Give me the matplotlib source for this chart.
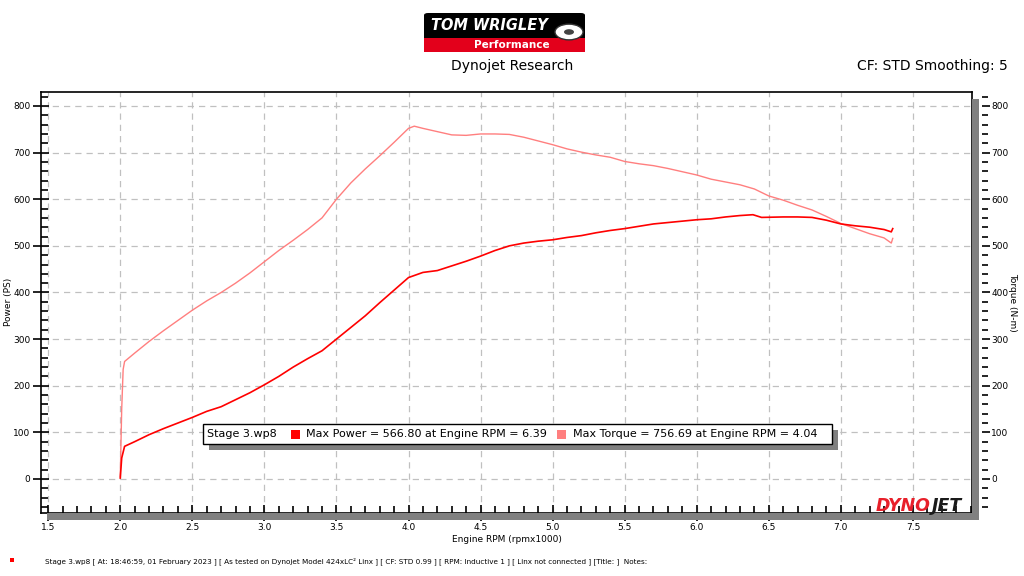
#!/usr/bin/env python3
# _*_ coding=utf-8 _*_

import matplotlib
matplotlib.use("Agg")
import matplotlib.pyplot as plt
from matplotlib.patches import Rectangle, FancyBboxPatch, Circle
from matplotlib.ticker import MultipleLocator

# engine rpm (x1000) and power (PS)
power_rpm = [2.00, 2.01, 2.03, 2.1, 2.2, 2.3, 2.4, 2.5, 2.6, 2.7, 2.8, 2.9,
             3.0, 3.1, 3.2, 3.3, 3.4, 3.5, 3.6, 3.7, 3.8, 3.9, 4.0, 4.1,
             4.2, 4.3, 4.4, 4.5, 4.6, 4.7, 4.8, 4.9, 5.0, 5.1, 5.2, 5.3,
             5.4, 5.5, 5.6, 5.7, 5.8, 5.9, 6.0, 6.1, 6.2, 6.3, 6.39, 6.45,
             6.6, 6.7, 6.8, 6.9, 7.0, 7.1, 7.2, 7.3, 7.35, 7.36]
power_ps = [2, 45, 70, 80, 95, 108, 120, 132, 145, 155, 170, 185,
            202, 220, 240, 258, 275, 300, 325, 350, 378, 405, 432, 443,
            447, 457, 467, 478, 490, 500, 506, 510, 513, 518, 522, 528,
            533, 537, 542, 547, 550, 553, 556, 558, 562, 565, 566.8, 561,
            562, 562, 561, 555, 547, 543, 540, 535, 530, 537]

# engine rpm (x1000) and torque (N-m)
torque_rpm = [2.00, 2.01, 2.02, 2.03, 2.1, 2.2, 2.3, 2.4, 2.5, 2.6, 2.7, 2.8,
              2.9, 3.0, 3.1, 3.2, 3.3, 3.4, 3.5, 3.6, 3.7, 3.8, 3.9, 4.0,
              4.04, 4.1, 4.2, 4.3, 4.4, 4.5, 4.6, 4.7, 4.8, 4.9, 5.0, 5.1,
              5.2, 5.3, 5.4, 5.5, 5.6, 5.7, 5.8, 5.9, 6.0, 6.1, 6.2, 6.3,
              6.4, 6.5, 6.6, 6.7, 6.8, 6.9, 7.0, 7.1, 7.2, 7.3, 7.35, 7.36]
torque_nm = [5, 150, 235, 252, 270, 295, 318, 340, 362, 382, 400, 420,
             442, 466, 490, 512, 535, 560, 600, 635, 665, 693, 722, 752,
             756.7, 752, 745, 738, 737, 740, 740, 739, 733, 725, 717, 708,
             701, 695, 690, 681, 676, 672, 666, 659, 652, 643, 637, 631,
             622, 607, 598, 587, 577, 563, 548, 537, 526, 517, 506, 516]

legend_items = ["Stage 3.wp8",
                "Max Power = 566.80 at Engine RPM = 6.39",
                "Max Torque = 756.69 at Engine RPM = 4.04"]
footer = ("Stage 3.wp8 [ At: 18:46:59, 01 February 2023 ] [ As tested on Dynojet "
          "Model 424xLC\u00b2 Linx ] [ CF: STD 0.99 ] [ RPM: Inductive 1 ] "
          "[ Linx not connected ] [Title: ]  Notes:")

POWER_COLOR = "#ff0000"
TORQUE_COLOR = "#ff7f7f"
W, H = 1024, 576


def fx(px):
    return px / W


def fy(py):
    return 1 - py / H


def draw_logo(fig):
    # Tom Wrigley badge
    fig.patches.append(FancyBboxPatch((fx(424), fy(52)), fx(161), 39 / H,
                                      boxstyle="round,pad=0,rounding_size=0.004",
                                      transform=fig.transFigure, fc="black",
                                      ec="none"))
    fig.patches.append(Rectangle((fx(424), fy(52)), fx(161), 14 / H,
                                 transform=fig.transFigure, fc="#e3001b",
                                 ec="none"))
    fig.patches.append(Circle((fx(569), fy(32)), 14 / W,
                              transform=fig.transFigure, fc="white",
                              ec="#333333", lw=1))
    fig.patches.append(Circle((fx(569), fy(32)), 5 / W,
                              transform=fig.transFigure, fc="#444444",
                              ec="none"))
    fig.text(fx(489), fy(25), "TOM WRIGLEY", color="white", fontsize=10.5,
             fontweight="bold", style="italic", ha="center", va="center")
    fig.text(fx(512), fy(45), "Performance", color="white", fontsize=7.5,
             fontweight="bold", ha="center", va="center")


def main():
    fig = plt.figure(figsize=(10.24, 5.76), dpi=100)
    ax = fig.add_axes([fx(41), fy(513), fx(972 - 41), (513 - 92) / H])

    ax.plot(torque_rpm, torque_nm, color=TORQUE_COLOR, lw=1.0, zorder=3)
    ax.plot(power_rpm, power_ps, color=POWER_COLOR, lw=1.2, zorder=4)

    ax.set_xlim(1.45, 7.91)
    ax.set_ylim(-73, 830)
    ax.xaxis.set_major_locator(MultipleLocator(0.5))
    ax.xaxis.set_minor_locator(MultipleLocator(0.1))
    ax.yaxis.set_major_locator(MultipleLocator(100))
    ax.yaxis.set_minor_locator(MultipleLocator(20))
    ax.xaxis.set_major_formatter(lambda v, p: "%.1f" % v)
    ax.grid(True, which="major", color="#c0c0c0", ls=(0, (5, 4)), lw=0.9)
    ax.tick_params(which="major", direction="inout", length=11, width=1.2,
                   labelsize=6.5, pad=2)
    ax.tick_params(which="minor", direction="in", length=5, width=1.2)
    for s in ax.spines.values():
        s.set_linewidth(1.2)

    ax2 = ax.twinx()
    ax2.set_ylim(ax.get_ylim())
    ax2.yaxis.set_major_locator(MultipleLocator(100))
    ax2.yaxis.set_minor_locator(MultipleLocator(20))
    ax2.spines["right"].set_position(("outward", 7))
    for s in ax2.spines.values():
        s.set_visible(False)
    ax2.tick_params(which="major", direction="out", length=6, width=1.2,
                    labelsize=6.5, pad=1)
    ax2.tick_params(which="minor", direction="out", length=4, width=1.2)

    fig.text(fx(9), fy(302), "Power (PS)", fontsize=6.5, rotation=90,
             ha="center", va="center")
    fig.text(fx(1013), fy(302), "Torque (N-m)", fontsize=6.5, rotation=270,
             ha="center", va="center")
    ax.set_xlabel("Engine RPM (rpmx1000)", fontsize=6.5, labelpad=2)

    # drop shadow under and right of the plot frame
    fig.patches.append(Rectangle((fx(47), fy(520)), fx(932), 7 / H,
                                 transform=fig.transFigure, fc="#808080",
                                 ec="none", zorder=0))
    fig.patches.append(Rectangle((fx(972), fy(520)), fx(7), (520 - 99) / H,
                                 transform=fig.transFigure, fc="#808080",
                                 ec="none", zorder=0))

    # legend box
    fig.patches.append(Rectangle((fx(209), fy(450)), fx(629), 20 / H,
                                 transform=fig.transFigure, fc="#808080",
                                 ec="none", zorder=5))
    fig.patches.append(Rectangle((fx(203), fy(444)), fx(629), 20 / H,
                                 transform=fig.transFigure, fc="white",
                                 ec="black", lw=1, zorder=6))
    fig.text(fx(207), fy(434), legend_items[0], fontsize=8, va="center",
             zorder=7)
    fig.patches.append(Rectangle((fx(291), fy(439)), fx(9), 9 / H,
                                 transform=fig.transFigure, fc=POWER_COLOR,
                                 ec="none", zorder=7))
    fig.text(fx(306), fy(434), legend_items[1], fontsize=8, va="center",
             zorder=7)
    fig.patches.append(Rectangle((fx(557), fy(439)), fx(9), 9 / H,
                                 transform=fig.transFigure, fc=TORQUE_COLOR,
                                 ec="none", zorder=7))
    fig.text(fx(573), fy(434), legend_items[2], fontsize=8, va="center",
             zorder=7)

    # headers
    draw_logo(fig)
    fig.text(0.5, fy(66), "Dynojet Research", fontsize=10, ha="center",
             va="center")
    fig.text(fx(1008), fy(66), "CF: STD Smoothing: 5", fontsize=10,
             ha="right", va="center")

    # dynojet mark
    fig.text(fx(876), fy(506), "DYNO", color="#e8202a", fontsize=12.5,
             fontweight="heavy", style="italic", va="center")
    fig.text(fx(932), fy(506), "JET", color="#1a1a1a", fontsize=12.5,
             fontweight="heavy", style="italic", va="center")

    # footer
    fig.patches.append(Rectangle((fx(10), fy(562)), fx(4), 4 / H,
                                 transform=fig.transFigure, fc="red",
                                 ec="none"))
    fig.text(fx(45), fy(561), footer, fontsize=5.2, va="center")

    fig.savefig("out.png", dpi=100)


if __name__ == "__main__":
    main()
